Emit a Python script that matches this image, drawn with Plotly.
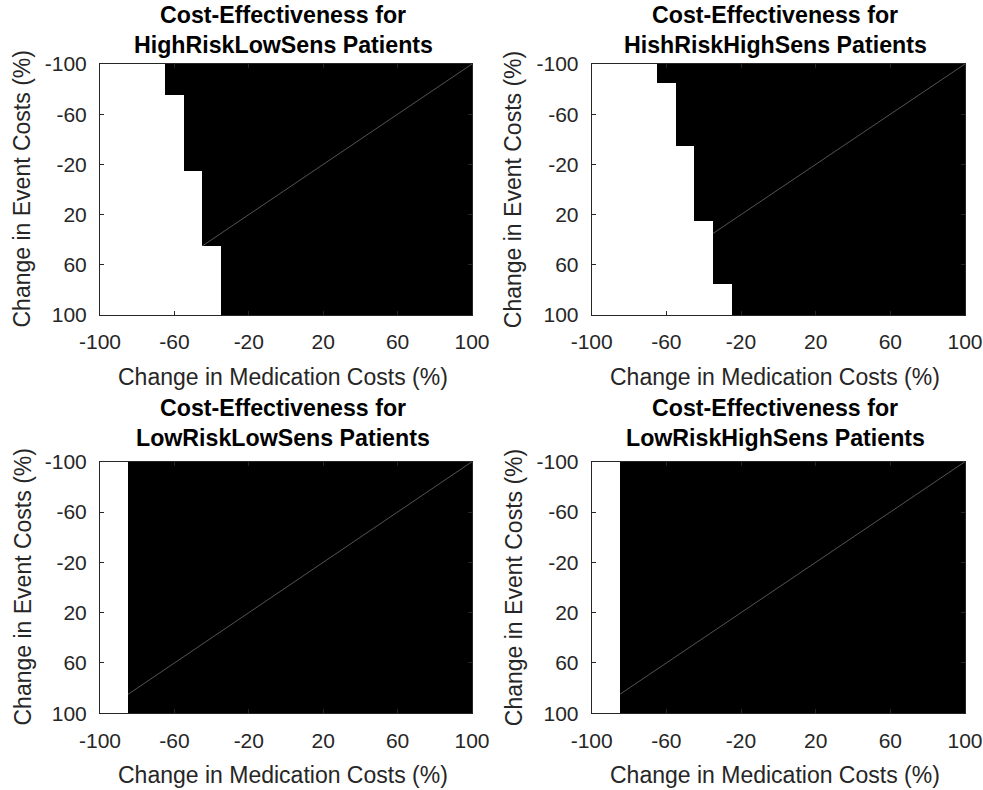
import plotly.graph_objects as go

# ---------------- data ----------------
med_change = [-100, -90, -80, -70, -60, -50, -40, -30, -20, -10, 0,
              10, 20, 30, 40, 50, 60, 70, 80, 90, 100]
event_change = [-100, -90, -80, -70, -60, -50, -40, -30, -20, -10, 0,
                10, 20, 30, 40, 50, 60, 70, 80, 90, 100]

# largest medication change (per event-change row) that is NOT cost-effective (white)
white_upto_hrls = [-70, -70, -70, -60, -60, -60, -60, -60, -60, -50, -50,
                   -50, -50, -50, -50, -40, -40, -40, -40, -40, -40]
white_upto_hrhs = [-70, -70, -60, -60, -60, -60, -60, -50, -50, -50, -50,
                   -50, -50, -40, -40, -40, -40, -40, -30, -30, -30]
white_upto_lrls = [-90] * 21
white_upto_lrhs = [-90] * 21

panel_titles = ["HighRiskLowSens Patients", "HishRiskHighSens Patients",
                "LowRiskLowSens Patients", "LowRiskHighSens Patients"]

tick_vals = [-100, -60, -20, 20, 60, 100]
tick_text = ["-100", "-60", "-20", "20", "60", "100"]

diag_x = [-100, 100]
diag_y = [100, -100]

x_label = "Change in Medication Costs (%)"
y_label = "Change in Event Costs (%)"
title_line1 = "Cost-Effectiveness for"

# ---------------- layout geometry (pixels) ----------------
W, H = 983, 790
FONT = "Liberation Sans, Arial, Helvetica, sans-serif"
AX = "#262626"

px_x = [(100, 472), (591.7, 965), (100, 472), (591.7, 965)]
px_y = [(64, 315), (64, 315), (461.7, 713.3), (461.7, 713.3)]
title_y1 = [15, 15, 408, 408]
title_y2 = [45, 45, 438, 438]


def fx(p):
    return p / W


def fy(p):
    return 1 - p / H


fig = go.Figure()
thresholds = [white_upto_hrls, white_upto_hrhs, white_upto_lrls, white_upto_lrhs]
annotations = []

for i in range(4):
    n = i + 1
    sx = "" if n == 1 else str(n)
    z = [[0 if xv <= thr else 1 for xv in med_change] for thr in thresholds[i]]
    fig.add_trace(go.Heatmap(
        x=med_change, y=event_change, z=z,
        colorscale=[[0, "white"], [1, "black"]], zmin=0, zmax=1,
        showscale=False, xaxis="x" + sx, yaxis="y" + sx, hoverinfo="skip"))
    fig.add_trace(go.Scatter(
        x=diag_x, y=diag_y, mode="lines",
        line=dict(color="rgba(255,255,255,0.33)", width=1),
        showlegend=False, xaxis="x" + sx, yaxis="y" + sx, hoverinfo="skip"))

    common = dict(
        tickmode="array", tickvals=tick_vals, ticktext=tick_text,
        ticks="inside", ticklen=4, tickwidth=1, tickcolor=AX,
        showline=True, linecolor=AX, linewidth=1, mirror="ticks",
        showgrid=False, zeroline=False, automargin=False,
        tickfont=dict(family=FONT, size=21, color=AX),
    )
    fig.update_layout(**{
        "xaxis" + sx: dict(domain=[fx(px_x[i][0]), fx(px_x[i][1])],
                           range=[-100, 100], anchor="y" + sx,
                           ticklabelstandoff=8, **common),
        "yaxis" + sx: dict(domain=[fy(px_y[i][1]), fy(px_y[i][0])],
                           range=[100, -100], anchor="x" + sx,
                           ticklabelstandoff=8, **common),
    })

    cx = (px_x[i][0] + px_x[i][1]) / 2 - 3
    cy = (px_y[i][0] + px_y[i][1]) / 2
    annotations += [
        dict(text="<b>%s</b>" % title_line1, x=fx(cx), y=fy(title_y1[i]),
             xref="paper", yref="paper", xanchor="center", yanchor="middle",
             showarrow=False, font=dict(family=FONT, size=23.2, color="black")),
        dict(text="<b>%s</b>" % panel_titles[i], x=fx(cx), y=fy(title_y2[i]),
             xref="paper", yref="paper", xanchor="center", yanchor="middle",
             showarrow=False, font=dict(family=FONT, size=23.2, color="black")),
        dict(text=x_label, x=fx(cx), y=fy(px_y[i][1] + 62),
             xref="paper", yref="paper", xanchor="center", yanchor="middle",
             showarrow=False, font=dict(family=FONT, size=23, color=AX)),
        dict(text=y_label, x=fx(px_x[i][0] - 78), y=fy(cy), textangle=-90,
             xref="paper", yref="paper", xanchor="center", yanchor="middle",
             showarrow=False, font=dict(family=FONT, size=23, color=AX)),
    ]

fig.update_layout(
    width=W, height=H,
    margin=dict(l=0, r=0, t=0, b=0, pad=0, autoexpand=False),
    paper_bgcolor="white", plot_bgcolor="white",
    showlegend=False, annotations=annotations,
)

fig.write_html("out.html")
